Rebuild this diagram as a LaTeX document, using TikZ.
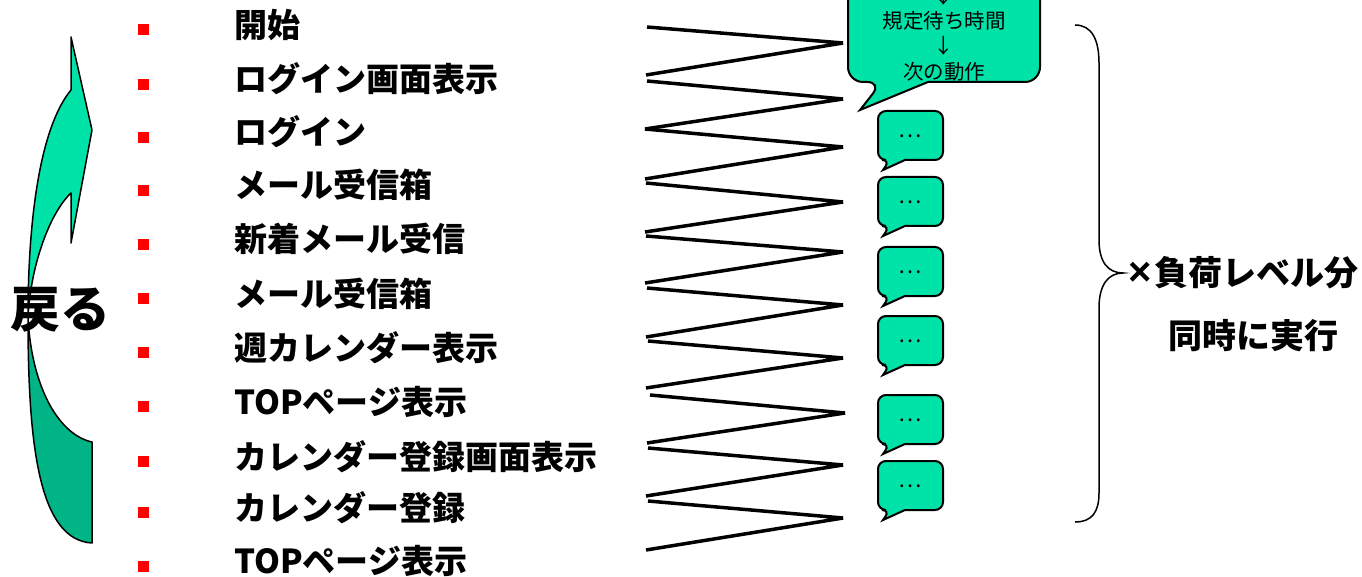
\documentclass[tikz,border=0pt]{standalone}
\usepackage{fontspec}
\setmainfont{Noto Sans CJK JP}
\newfontfamily\latfont{Liberation Sans}
\begin{document}
\begin{tikzpicture}[x=1pt,y=-1pt,
  item/.style={anchor=base west, inner sep=0pt, font=\fontsize{33}{33}\selectfont\bfseries},
  bul/.style={fill=red, draw=none, minimum size=11pt, inner sep=0pt},
  zig/.style={draw=black, line width=3.5pt, line join=bevel},
  bubble/.style={draw=black, line width=2pt, fill=teal1},
  ctext/.style={anchor=base, inner sep=0pt, font=\fontsize{20.5}{20.5}\selectfont},
  dots/.style={anchor=center, inner sep=0pt, font=\fontsize{22}{22}\selectfont},
  big/.style={anchor=base west, inner sep=0pt, font=\fontsize{34}{34}\selectfont\bfseries},
  arrowline/.style={draw=black, line width=1.5pt, line join=round}]
\definecolor{teal1}{RGB}{0,227,168}
\definecolor{teal2}{RGB}{0,180,134}
\useasboundingbox (0,0) rectangle (1362,577);
\clip (0,0) rectangle (1362,577);

% list
\foreach \y/\t [count=\i] in {30/開始, 84.5/ログイン画面表示, 137.5/ログイン, 190.5/メール受信箱, 244.5/新着メール受信, 298.5/メール受信箱, 352.5/週カレンダー表示, 406.5/TOPページ表示, 461.5/カレンダー登録画面表示, 512.5/カレンダー登録, 566/TOPページ表示}{
  \node[bul] (b\i) at (143,\y) {};
  \node[item] (it\i) at (234,\y+7.5) {\t};
}

% zigzag
\foreach \ax/\ay/\bx/\by/\cx/\cy [count=\k] in {
 647/27/843/43/646/75,
 647/81/843/99/645/129,
 645/129/843/147/645/179,
 646/183/843/202/645/232,
 646/236/843/252/645/283,
 647/288/843/305/646/337,
 648/341/843/358/646/388,
 650/395/845/413/647/443,
 648/448/843/465/646/496,
 648/501/843/518/646/550}{
  \coordinate (z\k a) at (\ax,\ay);
  \coordinate (z\k b) at (\bx,\by);
  \coordinate (z\k c) at (\cx,\cy);
  \draw[zig] (z\k a) -- (z\k b) -- (z\k c);
}

% top callout
\draw[bubble] (928,82) [rounded corners=15] -- (1040,82) -- (1040,-40) -- (848,-40) -- (848,82) -- (882,82) [sharp corners] -- (860,110) -- cycle;
\node[ctext] (c0) at (944,4) {↓};
\node[ctext] (c1) at (944,29) {規定待ち時間};
\node[ctext] (c2) at (944,54) {↓};
\node[ctext] (c3) at (944,80) {次の動作};

% small callouts
\foreach \t [count=\j] in {111,177,247,316,395,461}{
  \pgfmathsetmacro{\bb}{\t+49}
  \pgfmathsetmacro{\tp}{\t+59}
  \draw[bubble] (905,\bb) [rounded corners=8] -- (943,\bb) -- (943,\t) -- (878,\t) -- (878,\bb) -- (890,\bb) [sharp corners] -- (883,\tp) -- cycle;
  \node[dots] (d\j) at (910.5,\t+25) {…};
}

% left curved arrow
\fill[teal1] (71,90) -- (71,37) -- (92,130) -- (71,243) -- (71,193) .. controls (48,215) and (30,270) .. (28,318) .. controls (28,210) and (42,125) .. (71,90) -- cycle;
\fill[teal2] (28,318) .. controls (28,450) and (40,540) .. (92,543) -- (92,442) .. controls (60,435) and (32,390) .. (28,318) -- cycle;
\draw[arrowline] (71,90) -- (71,37) -- (92,130) -- (71,243) -- (71,193) .. controls (48,215) and (30,270) .. (28,318) .. controls (28,450) and (40,540) .. (92,543) -- (92,442) .. controls (60,435) and (32,390) .. (28,318) .. controls (28,210) and (42,125) .. (71,90);
\node[anchor=center, inner sep=0pt, font=\fontsize{50}{50}\selectfont\bfseries] (back) at (60,310) {戻る};

% brace
\draw[line width=1.5pt] (1075,25) .. controls (1092,25) and (1099,40) .. (1099,63) -- (1099,240) .. controls (1099,262) and (1108,273) .. (1123,273) .. controls (1108,273) and (1099,285) .. (1099,308) -- (1099,493) .. controls (1099,512) and (1092,522) .. (1075,522);
\node[big] (r1) at (1128,286) {{\latfont\fontsize{40}{40}\selectfont ×}\hspace{3pt}負荷レベル分};
\node[big] (r2) at (1168,348) {同時に実行};
\end{tikzpicture}
\end{document}
